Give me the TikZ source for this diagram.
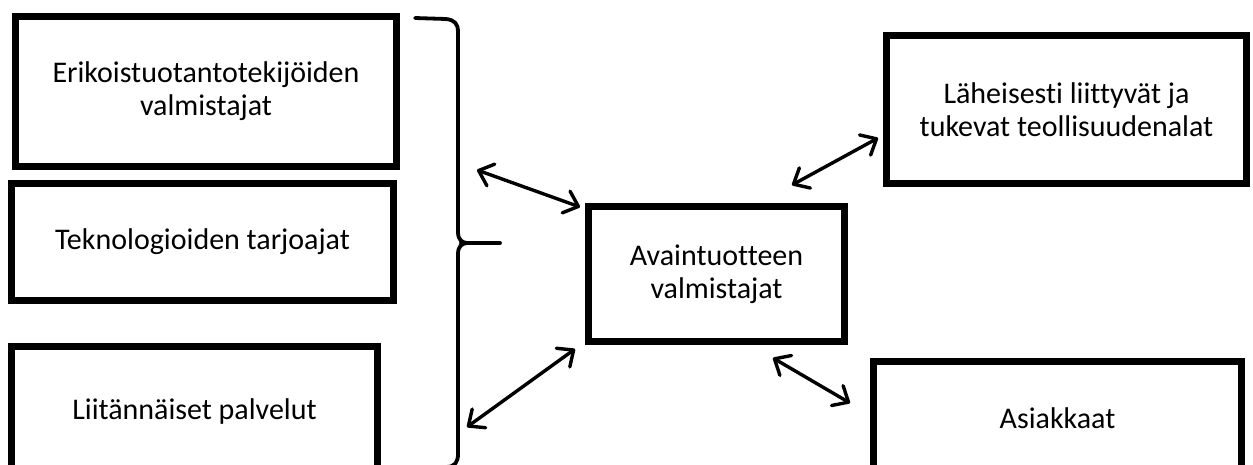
\documentclass[tikz,border=0pt]{standalone}
\usepackage{fontspec}
\setmainfont{Carlito}[Ligatures={NoCommon}]
\usetikzlibrary{arrows.meta,calc}

\tikzset{
  box/.style={draw=black, line width=7pt, rectangle, inner sep=0pt,
    align=center, text=black, font=\fontsize{30}{33}\selectfont},
  link/.style={line width=3.4pt, draw=black,
    {Straight Barb[length=13pt,width=23pt,round]}-{Straight Barb[length=13pt,width=23pt,round]}},
  bracket/.style={draw=black, line width=3.8pt, line cap=round, line join=round}
}

\begin{document}
\begin{tikzpicture}[x=1pt,y=-1pt]
  \useasboundingbox (0,0) rectangle (1253,464);

  % supplier boxes on the left
  \node[box, minimum width=381pt, minimum height=150pt] (b1) at (206,91.5)
    {Erikoistuotantotekijöiden\\valmistajat};
  \node[box, minimum width=382pt, minimum height=117pt] (b2) at (202.5,242)
    {Teknologioiden tarjoajat};
  \node[box, minimum width=366pt, minimum height=130pt] (b3) at (194.5,411.5)
    {Liitännäiset palvelut};

  % core producers
  \node[box, minimum width=256pt, minimum height=135pt] (ctr) at (716.5,274)
    {Avaintuotteen\\valmistajat};

  % right-hand boxes
  \node[box, minimum width=360pt, minimum height=148pt] (tr) at (1066.5,109.5)
    {Läheisesti liittyvät ja\\tukevat teollisuudenalat};
  \node[box, minimum width=368pt, minimum height=113pt] (cu) at (1057.5,418)
    {Asiakkaat};

  % curly bracket grouping the three left boxes
  \draw[bracket] (415,18) -- (446,19) .. controls (455,20) and (458,24) .. (458,32)
    -- (458,232) .. controls (458,240) and (462,243) .. (468,243)
    .. controls (462,243) and (458,246) .. (458,254)
    -- (458,454) .. controls (458,462) and (455,467) .. (446,467) -- (415,468);
  \draw[bracket] (461,243) -- (500,243);

  % two-way links
  \draw[link] ($(b1.south east)+(77,0)$) -- ($(ctr.north west)+(-5,4)$);
  \draw[link] ($(b3.east)+(86,15.5)$) -- ($(ctr.south west)+(-10,4)$);
  \draw[link] ($(ctr.north east)+(-56,-18)$) -- ($(tr.west)+(-5,28.5)$);
  \draw[link] ($(ctr.south east)+(-75,13)$) -- ($(cu.west)+(-20,-15)$);
\end{tikzpicture}
\end{document}
